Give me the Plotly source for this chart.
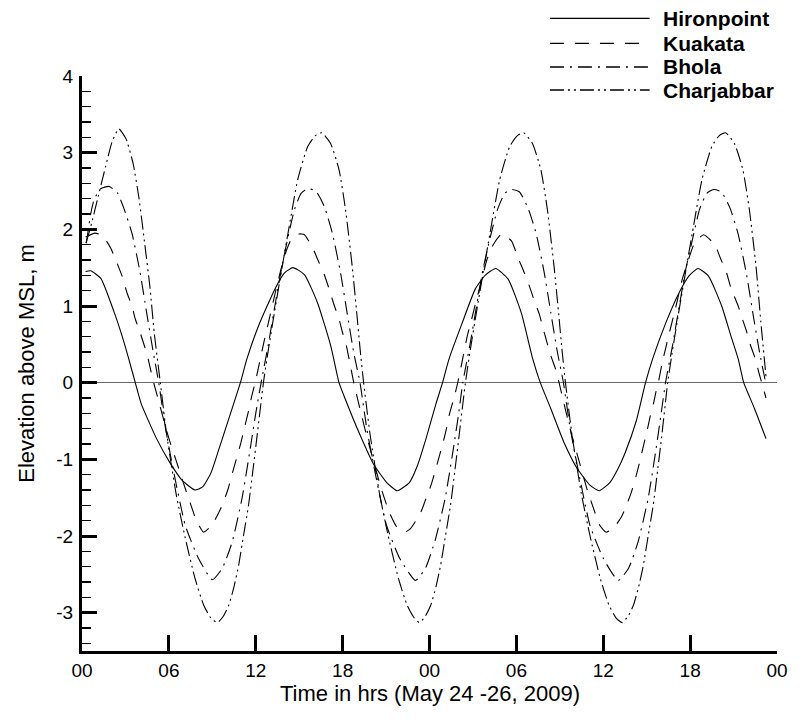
import plotly.graph_objects as go

# ---------------- data ----------------
hiron_t = [0.25, 0.6, 1.3, 2.2, 2.75, 3.2, 3.68, 4.1, 5.15, 6.06, 6.9, 7.8, 8.33, 8.9, 9.4, 9.95, 10.5, 10.94,
           11.39, 12.19, 13.32, 13.97, 14.57, 15.36, 16.27, 17.18, 17.75, 18.09, 19.22, 20.13, 21.03, 21.78, 22.62, 23.17, 23.76, 24.44, 24.9,
           25.35, 26.26, 27.16, 27.84, 28.57, 29.43, 30.34, 31.13, 31.65, 32.38, 33.29, 34.2, 35.1, 35.72, 36.47, 37.0, 37.5, 38.28, 38.92,
           39.41, 40.32, 41.23, 41.91, 42.55, 43.27, 44.18, 44.8, 45.32, 45.7, 46.05, 46.45, 47.24]
hiron_v = [1.45, 1.46, 1.36, 0.93, 0.62, 0.33, 0.0, -0.28, -0.73, -1.04, -1.27, -1.40, -1.36, -1.18, -0.90, -0.58, -0.26, 0.0,
           0.31, 0.74, 1.22, 1.43, 1.50, 1.41, 1.04, 0.48, 0.0, -0.17, -0.69, -1.06, -1.30, -1.41, -1.30, -1.08, -0.73, -0.28, 0.0,
           0.31, 0.78, 1.22, 1.40, 1.49, 1.35, 0.91, 0.31, 0.0, -0.34, -0.78, -1.12, -1.34, -1.41, -1.30, -1.13, -0.92, -0.50, 0.0,
           0.31, 0.78, 1.17, 1.39, 1.49, 1.39, 1.00, 0.62, 0.31, 0.0, -0.16, -0.34, -0.73]

kuak_t = [0.25, 0.9, 1.41, 1.97, 2.31, 2.77, 3.11, 3.45, 3.68, 4.02, 4.36, 4.58, 4.95, 5.38, 5.88, 6.17, 6.51, 6.85, 7.2, 7.53,
          7.9, 8.4, 8.96, 9.46, 9.8, 10.1, 10.4, 10.7, 10.98, 11.23, 11.5, 11.73, 11.96,
          12.19, 12.53, 12.87, 13.32, 13.77, 14.11, 14.45, 15.0, 15.36, 15.93, 16.27, 16.73, 17.07, 17.4, 17.75, 17.97, 18.26, 18.58,
          18.77, 19.22, 19.67, 20.2, 20.7, 21.2, 21.7, 22.28, 22.7, 23.4, 23.76, 24.1, 24.4, 24.66, 24.94, 25.17, 25.35, 25.69, 25.95,
          26.26, 26.6, 26.9, 27.16, 27.62, 27.96, 28.4, 28.98, 29.66, 30.11, 30.45, 30.9, 31.2, 31.59, 31.8, 32.15, 32.38, 32.72,
          32.95, 33.4, 33.85, 34.4, 34.9, 35.4, 35.79, 36.2, 36.69, 37.26, 37.6, 37.94, 38.28, 38.51, 38.78, 39.0, 39.23, 39.46, 39.64, 39.8,
          40.05, 40.5, 41.0, 41.46, 41.91, 42.3, 42.93, 43.7, 44.1, 44.52, 44.81, 45.32, 45.54, 45.88, 46.11, 46.56, 46.72, 47.02, 47.24]
kuak_v = [1.90, 1.95, 1.92, 1.76, 1.61, 1.39, 1.17, 1.00, 0.83, 0.65, 0.45, 0.30, 0.0, -0.30, -0.65, -0.83, -1.02, -1.22, -1.42, -1.60,
          -1.80, -1.95, -1.86, -1.69, -1.54, -1.38, -1.17, -0.97, -0.78, -0.58, -0.37, -0.17, 0.0,
          0.20, 0.50, 0.78, 1.15, 1.50, 1.72, 1.87, 1.94, 1.93, 1.76, 1.61, 1.41, 1.22, 1.02, 0.83, 0.67, 0.48, 0.18,
          0.0, -0.36, -0.70, -1.07, -1.40, -1.68, -1.87, -1.95, -1.90, -1.69, -1.51, -1.34, -1.15, -0.97, -0.78, -0.60, -0.43, -0.20, 0.0,
          0.28, 0.60, 0.82, 1.02, 1.35, 1.60, 1.80, 1.94, 1.85, 1.63, 1.48, 1.26, 1.09, 0.89, 0.74, 0.50, 0.35, 0.17,
          0.0, -0.36, -0.70, -1.07, -1.40, -1.68, -1.87, -1.95, -1.90, -1.75, -1.60, -1.43, -1.21, -1.04, -0.82, -0.65, -0.45, -0.28, -0.12, 0.0,
          0.24, 0.60, 0.98, 1.35, 1.62, 1.82, 1.93, 1.80, 1.62, 1.43, 1.24, 1.00, 0.87, 0.68, 0.52, 0.28, 0.15, -0.05, -0.20]

bhola_t = [0.3, 0.61, 0.84, 1.29, 1.86, 2.43, 2.88, 3.45, 4.0, 4.45, 4.9, 5.3, 5.77, 6.34, 7.13, 8.04, 9.0, 9.69, 10.37, 11.05,
           11.62, 12.0, 12.37,
           12.87, 13.32, 13.77, 14.23, 14.68, 15.13, 15.59, 16.15, 16.73, 17.29, 17.86, 18.31, 18.77, 19.2, 19.67, 20.24, 21.03, 21.94,
           23.03, 23.72, 24.4, 25.08, 25.65, 26.0, 26.3,
           26.8, 27.25, 27.7, 28.2, 28.7, 29.2, 29.66, 30.2, 30.8, 31.36, 31.93, 32.38, 32.84, 33.25, 33.72, 34.3, 35.08, 36.0,
           37.03, 37.75, 38.4, 39.1, 39.65, 40.0, 40.3,
           40.8, 41.25, 41.7, 42.2, 42.65, 43.15, 43.61, 44.15, 44.75, 45.3, 45.88, 46.33, 46.8, 47.24]
bhola_v = [1.82, 2.21, 2.39, 2.53, 2.56, 2.48, 2.28, 1.95, 1.45, 0.93, 0.42, 0.0, -0.60, -1.17, -1.86, -2.29, -2.57, -2.42, -2.08, -1.51,
           -0.86, -0.40, 0.0,
           0.50, 1.00, 1.48, 1.90, 2.26, 2.47, 2.53, 2.50, 2.30, 1.95, 1.43, 0.91, 0.39, 0.0, -0.60, -1.17, -1.86, -2.29,
           -2.58, -2.42, -2.05, -1.51, -0.86, -0.42, 0.0,
           0.50, 1.00, 1.48, 1.90, 2.26, 2.47, 2.52, 2.49, 2.28, 1.95, 1.43, 0.91, 0.39, 0.0, -0.60, -1.17, -1.86, -2.29,
           -2.58, -2.42, -2.08, -1.51, -0.86, -0.40, 0.0,
           0.50, 1.00, 1.48, 1.90, 2.26, 2.47, 2.52, 2.49, 2.28, 1.95, 1.43, 0.91, 0.39, -0.02]

charj_t = [0.27, 0.61, 1.07, 1.63, 2.09, 2.54, 3.04, 3.54, 3.94, 4.34, 4.69, 4.99, 5.41, 5.85, 6.5, 7.1, 7.8, 8.4, 8.9, 9.35,
           9.75, 10.14, 10.5, 10.82, 11.15, 11.5, 11.8, 12.07, 12.53,
           12.87, 13.32, 13.77, 14.23, 14.9, 15.59, 16.1, 16.56, 17.17, 17.75, 18.2, 18.66, 18.99, 19.2, 19.45, 19.9, 20.55, 21.15,
           21.85, 22.45, 22.95, 23.3, 23.7, 24.09, 24.45, 24.77, 25.1, 25.45, 25.75, 26.02, 26.48,
           26.82, 27.27, 27.72, 28.18, 28.85, 29.54, 30.05, 30.5, 31.11, 31.69, 32.14, 32.6, 32.93, 33.14, 33.39, 33.84, 34.49, 35.09,
           35.79, 36.39, 36.89, 37.3, 37.7, 38.09, 38.45, 38.77, 39.1, 39.45, 39.75, 40.02, 40.45,
           40.79, 41.24, 41.69, 42.15, 42.82, 43.5, 44.0, 44.45, 45.06, 45.64, 46.09, 46.55, 46.88, 47.09, 47.24]
charj_v = [1.82, 2.04, 2.39, 2.82, 3.15, 3.31, 3.18, 2.85, 2.40, 1.80, 1.25, 0.65, 0.0, -0.68, -1.45, -2.00, -2.55, -2.90, -3.07, -3.13,
           -3.05, -2.90, -2.66, -2.38, -2.00, -1.60, -1.15, -0.73, 0.0,
           0.43, 0.95, 1.45, 1.95, 2.65, 3.08, 3.22, 3.26, 3.12, 2.78, 2.26, 1.52, 0.88, 0.45, 0.0, -0.68, -1.45, -2.00,
           -2.55, -2.90, -3.07, -3.13, -3.05, -2.90, -2.66, -2.38, -2.00, -1.60, -1.15, -0.73, 0.0,
           0.43, 0.95, 1.45, 1.95, 2.65, 3.08, 3.22, 3.26, 3.12, 2.78, 2.26, 1.52, 0.88, 0.45, 0.0, -0.68, -1.45, -2.00,
           -2.55, -2.90, -3.07, -3.13, -3.05, -2.90, -2.66, -2.38, -2.00, -1.60, -1.15, -0.73, 0.0,
           0.43, 0.95, 1.45, 1.95, 2.65, 3.08, 3.22, 3.26, 3.12, 2.78, 2.26, 1.52, 0.80, 0.38, 0.08]

series_names = ["Hironpoint", "Kuakata", "Bhola", "Charjabbar"]
x_tick_vals = [0, 6, 12, 18, 24, 30, 36, 42, 48]
x_tick_text = ["00", "06", "12", "18", "00", "06", "12", "18", "00"]
y_tick_vals = [-3, -2, -1, 0, 1, 2, 3, 4]
y_tick_text = ["-3", "-2", "-1", "0", "1", "2", "3", "4"]
x_title = "Time in hrs (May 24 -26, 2009)"
y_title = "Elevation above MSL, m"

# ---------------- styling ----------------
W, H = 800, 720
L, R, T, B = 82, 14, 76, 69
FONT = "Arial, 'Liberation Sans', sans-serif"
dashes = ["solid", "14px,11px", "14px,6px,2px,6px", "14px,4px,2px,4px,2px,4px"]


def px_x(px):
    return (px - L) / (W - L - R)


def px_y(py):
    return (H - B - py) / (H - T - B)


fig = go.Figure()
for name, t, v, d in zip(series_names,
                         [hiron_t, kuak_t, bhola_t, charj_t],
                         [hiron_v, kuak_v, bhola_v, charj_v],
                         dashes):
    fig.add_trace(go.Scatter(x=t, y=v, name=name, mode="lines",
                             line=dict(color="black", width=1.1, dash=d,
                                       shape="spline", smoothing=0.5),
                             showlegend=False, hoverinfo="skip"))

# manual legend (long sample lines like the reference)
legend_rows = [18.3, 43.3, 67.0, 90.0]
shapes = []
annotations = []
for name, d, row in zip(series_names, dashes, legend_rows):
    shapes.append(dict(type="line", xref="paper", yref="paper",
                       x0=px_x(556), x1=px_x(657), y0=px_y(row), y1=px_y(row),
                       line=dict(color="black", width=1.3, dash=d)))
    annotations.append(dict(xref="paper", yref="paper", x=px_x(668), y=px_y(row),
                            xanchor="left", yanchor="middle", showarrow=False,
                            text="<b>%s</b>" % name,
                            font=dict(family=FONT, size=21, color="black")))

annotations.append(dict(xref="paper", yref="paper", x=px_x(434), y=px_y(693),
                        xanchor="center", yanchor="middle", showarrow=False,
                        text=x_title, font=dict(family=FONT, size=22, color="black")))
annotations.append(dict(xref="paper", yref="paper", x=px_x(25), y=px_y(364),
                        xanchor="center", yanchor="middle", showarrow=False, textangle=-90,
                        text=y_title, font=dict(family=FONT, size=22, color="black")))

fig.update_layout(
    width=W, height=H, autosize=False,
    margin=dict(l=L, r=R, t=T, b=B, pad=0),
    plot_bgcolor="white", paper_bgcolor="white",
    font=dict(family=FONT, size=19, color="black"),
    showlegend=False,
    shapes=shapes, annotations=annotations,
    xaxis=dict(range=[0, 48], tickmode="array", tickvals=x_tick_vals, ticktext=x_tick_text,
               ticks="inside", ticklen=16, tickwidth=3, tickcolor="black",
               showline=True, linewidth=3, linecolor="black", mirror=False,
               showgrid=False, zeroline=False, ticklabelstandoff=0,
               tickfont=dict(family=FONT, size=19, color="black")),
    yaxis=dict(range=[-3.5, 4], tickmode="array", tickvals=y_tick_vals, ticktext=y_tick_text,
               ticks="inside", ticklen=15, tickwidth=3, tickcolor="black",
               minor=dict(dtick=0.2, tick0=0, ticks="inside", ticklen=9, tickwidth=1.3,
                          tickcolor="black", showgrid=False),
               showline=True, linewidth=3, linecolor="black", mirror=False,
               showgrid=False, zeroline=True, zerolinecolor="#6a6a6a", zerolinewidth=1.5,
               ticklabelstandoff=2,
               tickfont=dict(family=FONT, size=19, color="black")),
)

fig.write_html("out.html",
               config={"displayModeBar": False, "staticPlot": True},
               post_script="document.body.style.margin='0px';document.body.style.padding='0px';")
